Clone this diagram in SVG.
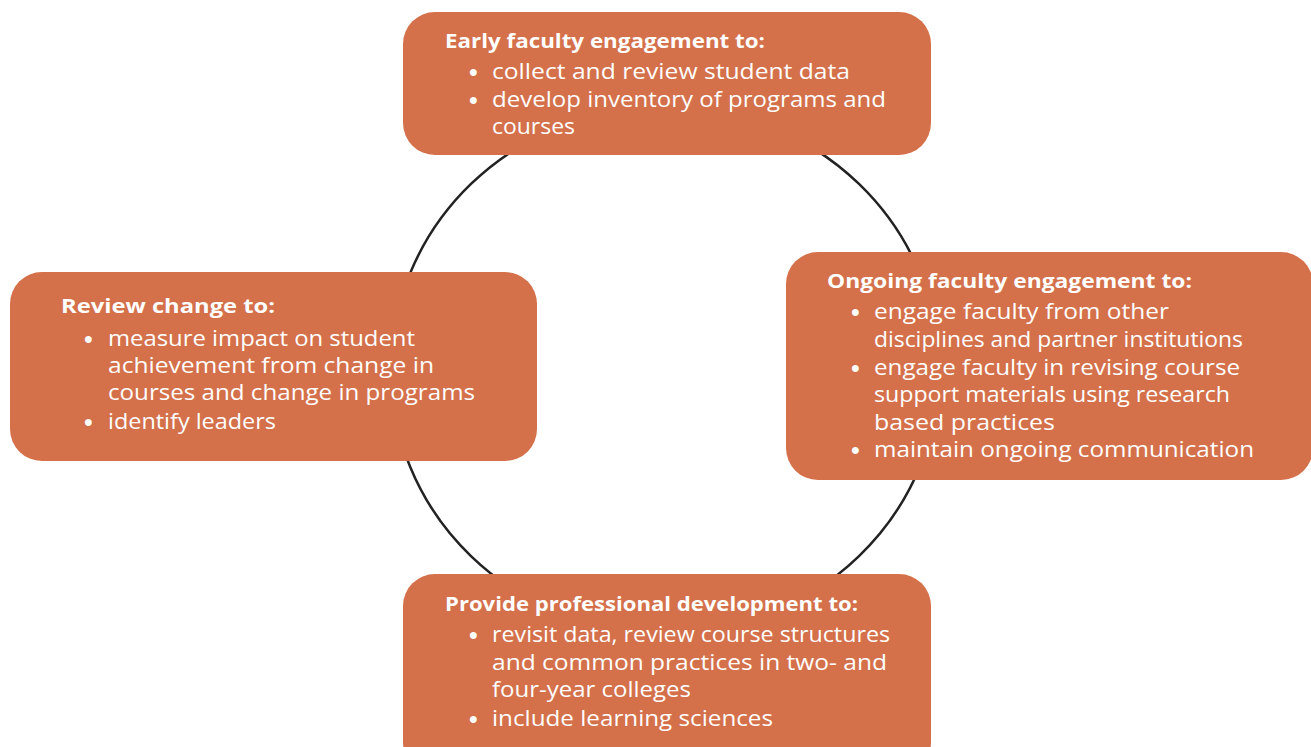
<svg xmlns="http://www.w3.org/2000/svg" width="1311" height="747" viewBox="0 0 1311 747">
<style>
.box{fill:#D4704A;}
.t{font-family:"Open Sans","Liberation Sans",sans-serif;font-weight:bold;font-size:20px;fill:#FFFFFF;}
.l{font-family:"Open Sans","Liberation Sans",sans-serif;font-size:21.5px;fill:#FFFFFF;}
.b{font-family:"Liberation Sans",sans-serif;font-size:25px;fill:#FFFFFF;}
</style>
<rect width="1311" height="747" fill="#FFFFFF"/>
<g id="connectors">
<ellipse cx="665" cy="370" rx="274" ry="263.5" fill="none" stroke="#222222" stroke-width="2.5"/>
</g>
<g id="node-top">
<rect class="box" x="403" y="12" width="528" height="143" rx="32"/>
<text class="t" x="445" y="48" textLength="320" lengthAdjust="spacingAndGlyphs">Early faculty engagement to:</text>
<text class="b" x="469" y="81">•</text>
<text class="l" x="492" y="79" textLength="358" lengthAdjust="spacingAndGlyphs">collect and review student data</text>
<text class="b" x="469" y="109">•</text>
<text class="l" x="492" y="107" textLength="394" lengthAdjust="spacingAndGlyphs">develop inventory of programs and</text>
<text class="l" x="492" y="134" textLength="83" lengthAdjust="spacingAndGlyphs">courses</text>
</g>
<g id="node-right">
<rect class="box" x="786" y="252" width="527" height="228" rx="32"/>
<text class="t" x="827" y="288" textLength="365" lengthAdjust="spacingAndGlyphs">Ongoing faculty engagement to:</text>
<text class="b" x="851" y="321">•</text>
<text class="l" x="874" y="319" textLength="295" lengthAdjust="spacingAndGlyphs">engage faculty from other</text>
<text class="l" x="874" y="347" textLength="369" lengthAdjust="spacingAndGlyphs">disciplines and partner institutions</text>
<text class="b" x="851" y="377">•</text>
<text class="l" x="874" y="375" textLength="366" lengthAdjust="spacingAndGlyphs">engage faculty in revising course</text>
<text class="l" x="874" y="402" textLength="356" lengthAdjust="spacingAndGlyphs">support materials using research</text>
<text class="l" x="874" y="430" textLength="181" lengthAdjust="spacingAndGlyphs">based practices</text>
<text class="b" x="851" y="459">•</text>
<text class="l" x="874" y="457" textLength="380" lengthAdjust="spacingAndGlyphs">maintain ongoing communication</text>
</g>
<g id="node-left">
<rect class="box" x="10" y="272" width="527" height="189" rx="32"/>
<text class="t" x="61" y="313" textLength="214" lengthAdjust="spacingAndGlyphs">Review change to:</text>
<text class="b" x="84" y="348">•</text>
<text class="l" x="108" y="346" textLength="307" lengthAdjust="spacingAndGlyphs">measure impact on student</text>
<text class="l" x="108" y="373" textLength="326" lengthAdjust="spacingAndGlyphs">achievement from change in</text>
<text class="l" x="108" y="400" textLength="367" lengthAdjust="spacingAndGlyphs">courses and change in programs</text>
<text class="b" x="84" y="431">•</text>
<text class="l" x="108" y="429" textLength="168" lengthAdjust="spacingAndGlyphs">identify leaders</text>
</g>
<g id="node-bottom">
<rect class="box" x="403" y="574" width="528" height="200" rx="32"/>
<text class="t" x="445" y="611" textLength="413" lengthAdjust="spacingAndGlyphs">Provide professional development to:</text>
<text class="b" x="469" y="644">•</text>
<text class="l" x="492" y="642" textLength="398" lengthAdjust="spacingAndGlyphs">revisit data, review course structures</text>
<text class="l" x="492" y="670" textLength="395" lengthAdjust="spacingAndGlyphs">and common practices in two- and</text>
<text class="l" x="492" y="697" textLength="199" lengthAdjust="spacingAndGlyphs">four-year colleges</text>
<text class="b" x="469" y="728">•</text>
<text class="l" x="492" y="726" textLength="281" lengthAdjust="spacingAndGlyphs">include learning sciences</text>
</g>
</svg>
